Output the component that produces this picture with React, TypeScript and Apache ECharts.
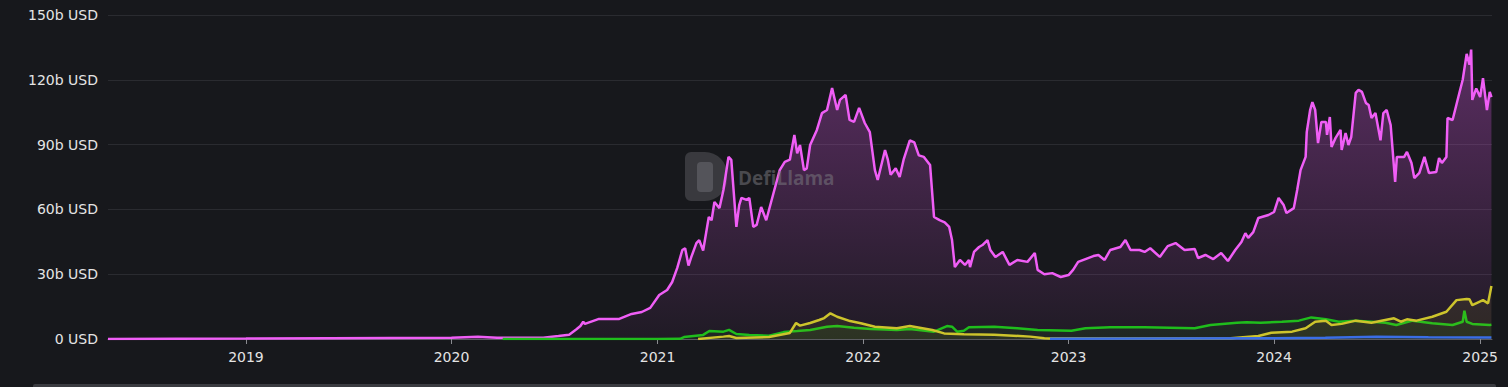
import React, { useEffect, useRef } from 'react';
import * as echarts from 'echarts';

// ---- data (values in billions USD) ----
const xMin = '2018-05-01';
const xMax = '2025-01-22';
const yTicks = [0, 30, 60, 90, 120, 150];

const pinkSeries: [string, number][] = [
  ['2018-05-01', 0], ['2019-01-01', 0.2], ['2019-06-01', 0.4], ['2020-01-01', 0.6],
  ['2020-02-17', 1.0], ['2020-03-22', 0.6], ['2020-04-28', 0.6], ['2020-06-12', 0.6],
  ['2020-07-09', 1.4], ['2020-07-28', 2.0], ['2020-08-10', 4.5], ['2020-08-17', 6],
  ['2020-08-22', 8], ['2020-08-25', 7], ['2020-09-19', 9.3], ['2020-10-25', 9.3],
  ['2020-11-16', 11.6], ['2020-12-04', 12.5], ['2020-12-19', 14.4], ['2021-01-04', 20.4],
  ['2021-01-18', 22.7], ['2021-01-27', 26.4], ['2021-02-05', 32.9], ['2021-02-14', 41.2],
  ['2021-02-19', 42], ['2021-02-25', 34], ['2021-03-02', 38], ['2021-03-11', 44.4],
  ['2021-03-16', 45.8], ['2021-03-23', 41], ['2021-04-02', 56.5], ['2021-04-07', 55],
  ['2021-04-12', 63.4], ['2021-04-21', 60.6], ['2021-04-28', 69], ['2021-05-07', 84.3],
  ['2021-05-12', 82.9], ['2021-05-16', 69], ['2021-05-21', 51.9], ['2021-05-26', 62],
  ['2021-05-30', 65.3], ['2021-06-08', 64.4], ['2021-06-13', 65.3], ['2021-06-20', 51.9],
  ['2021-06-26', 52.8], ['2021-07-04', 61.1], ['2021-07-13', 55], ['2021-07-26', 67.6],
  ['2021-08-06', 78.2], ['2021-08-15', 82], ['2021-08-24', 83], ['2021-09-01', 94.5],
  ['2021-09-06', 86], ['2021-09-11', 89.8], ['2021-09-18', 78.2], ['2021-09-23', 79],
  ['2021-09-29', 89.8], ['2021-10-11', 96.8], ['2021-10-20', 104.6], ['2021-10-29', 106],
  ['2021-11-07', 116.2], ['2021-11-16', 106], ['2021-11-21', 110.7], ['2021-12-01', 113],
  ['2021-12-08', 101.4], ['2021-12-16', 100.5], ['2021-12-25', 107], ['2022-01-04', 100],
  ['2022-01-13', 95.8], ['2022-01-22', 78.2], ['2022-01-27', 73.6], ['2022-02-09', 87.5],
  ['2022-02-14', 83], ['2022-02-19', 76], ['2022-02-28', 79], ['2022-03-07', 75],
  ['2022-03-14', 83], ['2022-03-25', 92], ['2022-04-02', 91], ['2022-04-10', 85],
  ['2022-04-19', 84.3], ['2022-04-30', 80.6], ['2022-05-07', 56.5], ['2022-05-17', 55],
  ['2022-05-26', 54], ['2022-06-03', 51.9], ['2022-06-08', 45.8], ['2022-06-13', 33.3],
  ['2022-06-22', 36.6], ['2022-07-01', 34.3], ['2022-07-08', 36.6], ['2022-07-10', 33.3],
  ['2022-07-17', 40.3], ['2022-07-26', 42.6], ['2022-08-01', 43.5], ['2022-08-10', 45.8],
  ['2022-08-15', 41.2], ['2022-08-24', 38], ['2022-09-06', 40.3], ['2022-09-18', 34.3],
  ['2022-10-02', 36.6], ['2022-10-20', 35.7], ['2022-11-02', 39.8], ['2022-11-07', 32],
  ['2022-11-19', 30], ['2022-12-03', 30.5], ['2022-12-18', 28.7], ['2023-01-01', 29.6],
  ['2023-01-09', 32], ['2023-01-18', 35.7], ['2023-01-31', 37], ['2023-02-14', 38.4],
  ['2023-02-23', 38.9], ['2023-03-06', 36.6], ['2023-03-16', 41.2], ['2023-04-03', 42.6],
  ['2023-04-12', 45.8], ['2023-04-21', 41.2], ['2023-05-07', 41.2], ['2023-05-16', 40.3],
  ['2023-05-26', 42], ['2023-06-12', 38], ['2023-06-26', 43], ['2023-07-10', 44.4],
  ['2023-07-26', 41.2], ['2023-08-13', 41.7], ['2023-08-19', 37.5], ['2023-09-01', 38.9],
  ['2023-09-15', 37], ['2023-09-29', 39.8], ['2023-10-11', 36.1], ['2023-10-24', 41.2],
  ['2023-11-04', 44.9], ['2023-11-11', 49], ['2023-11-16', 46.8], ['2023-11-25', 49.5],
  ['2023-12-04', 56], ['2023-12-22', 57.4], ['2024-01-01', 58.8], ['2024-01-09', 65.3],
  ['2024-01-18', 62], ['2024-01-23', 58.3], ['2024-02-05', 60.6], ['2024-02-11', 69],
  ['2024-02-17', 78.2], ['2024-02-26', 84.3], ['2024-02-28', 95.8], ['2024-03-05', 106],
  ['2024-03-09', 109.7], ['2024-03-14', 106], ['2024-03-19', 90.7], ['2024-03-25', 100.5],
  ['2024-04-02', 100.5], ['2024-04-04', 94.5], ['2024-04-09', 102.8], ['2024-04-12', 88.9],
  ['2024-04-19', 93], ['2024-04-28', 96.8], ['2024-04-30', 87.5], ['2024-05-07', 95.4],
  ['2024-05-12', 89.8], ['2024-05-17', 93.5], ['2024-05-25', 113.9], ['2024-05-30', 115.3],
  ['2024-06-05', 114.4], ['2024-06-12', 109.3], ['2024-06-17', 108.3], ['2024-06-22', 102.3],
  ['2024-06-29', 104.6], ['2024-07-08', 92], ['2024-07-13', 104.6], ['2024-07-19', 106],
  ['2024-07-26', 99], ['2024-08-03', 72.7], ['2024-08-06', 84.3], ['2024-08-19', 84.3],
  ['2024-08-24', 86.6], ['2024-09-01', 81.5], ['2024-09-06', 74.5], ['2024-09-15', 76.9],
  ['2024-09-24', 84.3], ['2024-10-02', 76.9], ['2024-10-15', 77.3], ['2024-10-20', 83.8],
  ['2024-10-25', 81.5], ['2024-11-02', 84.3], ['2024-11-04', 102.3], ['2024-11-13', 101.4],
  ['2024-11-25', 113.9], ['2024-12-01', 120], ['2024-12-08', 132], ['2024-12-13', 127],
  ['2024-12-16', 134], ['2024-12-18', 110.7], ['2024-12-25', 116], ['2025-01-01', 112],
  ['2025-01-06', 120.8], ['2025-01-13', 106], ['2025-01-18', 114.4], ['2025-01-21', 112],
];

const greenSeries: [string, number][] = [
  ['2020-04-01', 0], ['2021-01-01', 0], ['2021-02-10', 0.1], ['2021-02-17', 0.9],
  ['2021-03-23', 1.9], ['2021-04-03', 3.7], ['2021-04-28', 3.4], ['2021-05-08', 4.2],
  ['2021-05-21', 2.3], ['2021-06-13', 1.9], ['2021-07-18', 1.5], ['2021-08-13', 3.2],
  ['2021-09-06', 3.7], ['2021-09-29', 4.2], ['2021-10-29', 5.7], ['2021-11-16', 6],
  ['2021-12-16', 5.2], ['2022-01-15', 4.6], ['2022-02-09', 4.4], ['2022-03-02', 4.2],
  ['2022-03-25', 4.6], ['2022-05-07', 3.4], ['2022-05-30', 6], ['2022-06-08', 5.7],
  ['2022-06-17', 3.4], ['2022-06-29', 3.8], ['2022-07-08', 5.4], ['2022-08-22', 5.7],
  ['2022-10-02', 5], ['2022-11-07', 4.2], ['2023-01-06', 3.8], ['2023-01-31', 5],
  ['2023-03-16', 5.4], ['2023-05-16', 5.4], ['2023-08-13', 5], ['2023-09-10', 6.5],
  ['2023-10-27', 7.5], ['2023-11-13', 7.8], ['2023-12-08', 7.5], ['2024-01-15', 8],
  ['2024-02-14', 8.5], ['2024-03-07', 10], ['2024-04-02', 9.1], ['2024-04-25', 8],
  ['2024-05-25', 8.5], ['2024-06-22', 8], ['2024-07-17', 7.5], ['2024-08-05', 6.5],
  ['2024-09-03', 8.5], ['2024-10-08', 7.3], ['2024-11-13', 6.5], ['2024-12-01', 8],
  ['2024-12-04', 13.1], ['2024-12-08', 8], ['2024-12-18', 7], ['2025-01-18', 6.5],
  ['2025-01-21', 6.6],
];

const yellowSeries: [string, number][] = [
  ['2021-03-14', 0], ['2021-04-28', 1.1], ['2021-05-08', 1.4], ['2021-05-21', 0.5],
  ['2021-07-18', 0.9], ['2021-08-24', 2.8], ['2021-09-04', 7.4], ['2021-09-11', 6.2],
  ['2021-09-29', 7.4], ['2021-10-15', 8.8], ['2021-10-24', 9.7], ['2021-11-04', 11.9],
  ['2021-11-16', 10.3], ['2021-12-09', 8.3], ['2021-12-28', 7.3], ['2022-01-22', 5.7],
  ['2022-03-02', 5], ['2022-03-25', 6], ['2022-05-04', 4.2], ['2022-05-25', 2.6],
  ['2022-06-29', 2.2], ['2022-08-22', 2], ['2022-10-25', 1.1], ['2022-11-19', 0.3],
  ['2022-11-29', 0.2], ['2023-06-01', 0.2], ['2023-10-16', 0.3], ['2023-12-04', 1.4],
  ['2023-12-27', 2.9], ['2024-02-02', 3.4], ['2024-02-26', 5], ['2024-03-14', 8],
  ['2024-04-02', 8.5], ['2024-04-12', 6.5], ['2024-04-30', 7], ['2024-05-25', 8.5],
  ['2024-06-22', 7.5], ['2024-08-01', 9.6], ['2024-08-13', 8], ['2024-08-24', 9.1],
  ['2024-09-10', 8.5], ['2024-10-08', 10.3], ['2024-11-02', 12.6], ['2024-11-20', 18],
  ['2024-12-08', 18.5], ['2024-12-13', 18.4], ['2024-12-18', 15.7], ['2025-01-06', 18],
  ['2025-01-15', 16.5], ['2025-01-21', 24.5],
];

const blueSeries: [string, number][] = [
  ['2022-11-29', 0.1], ['2023-06-01', 0.2], ['2024-01-01', 0.3], ['2024-04-01', 0.6],
  ['2024-07-01', 1.0], ['2024-10-01', 0.8], ['2025-01-21', 0.7],
];

const seriesNames = ['Pink', 'Green', 'Yellow', 'Blue'];

export default function App() {
  const ref = useRef<HTMLDivElement>(null);
  useEffect(() => {
    document.body.style.margin = '0';
    const chart = echarts.init(ref.current!, undefined, { renderer: 'svg' });
    const labelStyle = { color: '#e4e4e4', fontSize: 14, fontFamily: '"DejaVu Sans", sans-serif' };
    chart.setOption({
      animation: false,
      backgroundColor: '#17181c',
      grid: { left: 108, right: 16, top: 15, bottom: 48 },
      xAxis: {
        type: 'time',
        min: xMin,
        max: xMax,
        minInterval: 365 * 24 * 3600 * 1000,
        axisLine: { show: true, lineStyle: { color: '#5a5b60', width: 1 } },
        axisTick: { show: true, length: 5, lineStyle: { color: '#8a8b90' } },
        splitLine: { show: false },
        axisLabel: {
          ...labelStyle,
          margin: 11,
          showMinLabel: false,
          showMaxLabel: false,
          formatter: (v: number) => String(new Date(v).getFullYear()),
        },
      },
      yAxis: {
        type: 'value',
        min: yTicks[0],
        max: yTicks[yTicks.length - 1],
        interval: 30,
        axisLine: { show: false },
        axisTick: { show: false },
        splitLine: { lineStyle: { color: '#2a2b30', width: 1 } },
        axisLabel: {
          ...labelStyle,
          margin: 10,
          formatter: (v: number) => (v === 0 ? '0 USD' : `${v}b USD`),
        },
      },
      graphic: [
        {
          type: 'group',
          left: 685,
          top: 152,
          z: 10,
          children: [
            {
              type: 'rect',
              shape: { x: 0, y: 0, width: 42, height: 49, r: [6, 22, 22, 6] },
              style: { fill: 'rgba(120,120,125,0.35)' },
            },
            {
              type: 'rect',
              shape: { x: 12, y: 10, width: 16, height: 30, r: 4 },
              style: { fill: 'rgba(150,150,155,0.3)' },
            },
          ],
        },
        {
          type: 'text',
          left: 738,
          top: 168,
          z: 10,
          style: {
            text: 'DefiLlama',
            fill: 'rgba(125,125,130,0.5)',
            font: 'bold 19px "Open Sans", sans-serif',
          },
        },
        {
          type: 'rect',
          shape: { x: 33, y: 384, width: 1463, height: 6, r: 2 },
          style: { fill: '#3a3b40' },
        },
      ],
      series: [
        {
          name: seriesNames[0],
          type: 'line',
          data: pinkSeries,
          showSymbol: false,
          lineStyle: { color: '#f05ef6', width: 2.5 },
          areaStyle: {
            color: new echarts.graphic.LinearGradient(0, 0, 0, 1, [
              { offset: 0, color: 'rgba(200,80,210,0.55)' },
              { offset: 1, color: 'rgba(200,80,210,0.07)' },
            ]),
          },
          z: 2,
        },
        {
          name: seriesNames[1],
          type: 'line',
          data: greenSeries,
          showSymbol: false,
          lineStyle: { color: '#1fbd1c', width: 2.5 },
          areaStyle: { color: 'rgba(30,180,30,0.12)' },
          z: 3,
        },
        {
          name: seriesNames[2],
          type: 'line',
          data: yellowSeries,
          showSymbol: false,
          lineStyle: { color: '#cdc42c', width: 2.5 },
          areaStyle: { color: 'rgba(200,190,40,0.12)' },
          z: 4,
        },
        {
          name: seriesNames[3],
          type: 'line',
          data: blueSeries,
          showSymbol: false,
          lineStyle: { color: '#3a6ee6', width: 2.5 },
          z: 5,
        },
      ],
    });
    return () => chart.dispose();
  }, []);
  return (
    <div
      ref={ref}
      style={{ position: 'fixed', left: 0, top: 0, width: 1508, height: 387 }}
    />
  );
}
